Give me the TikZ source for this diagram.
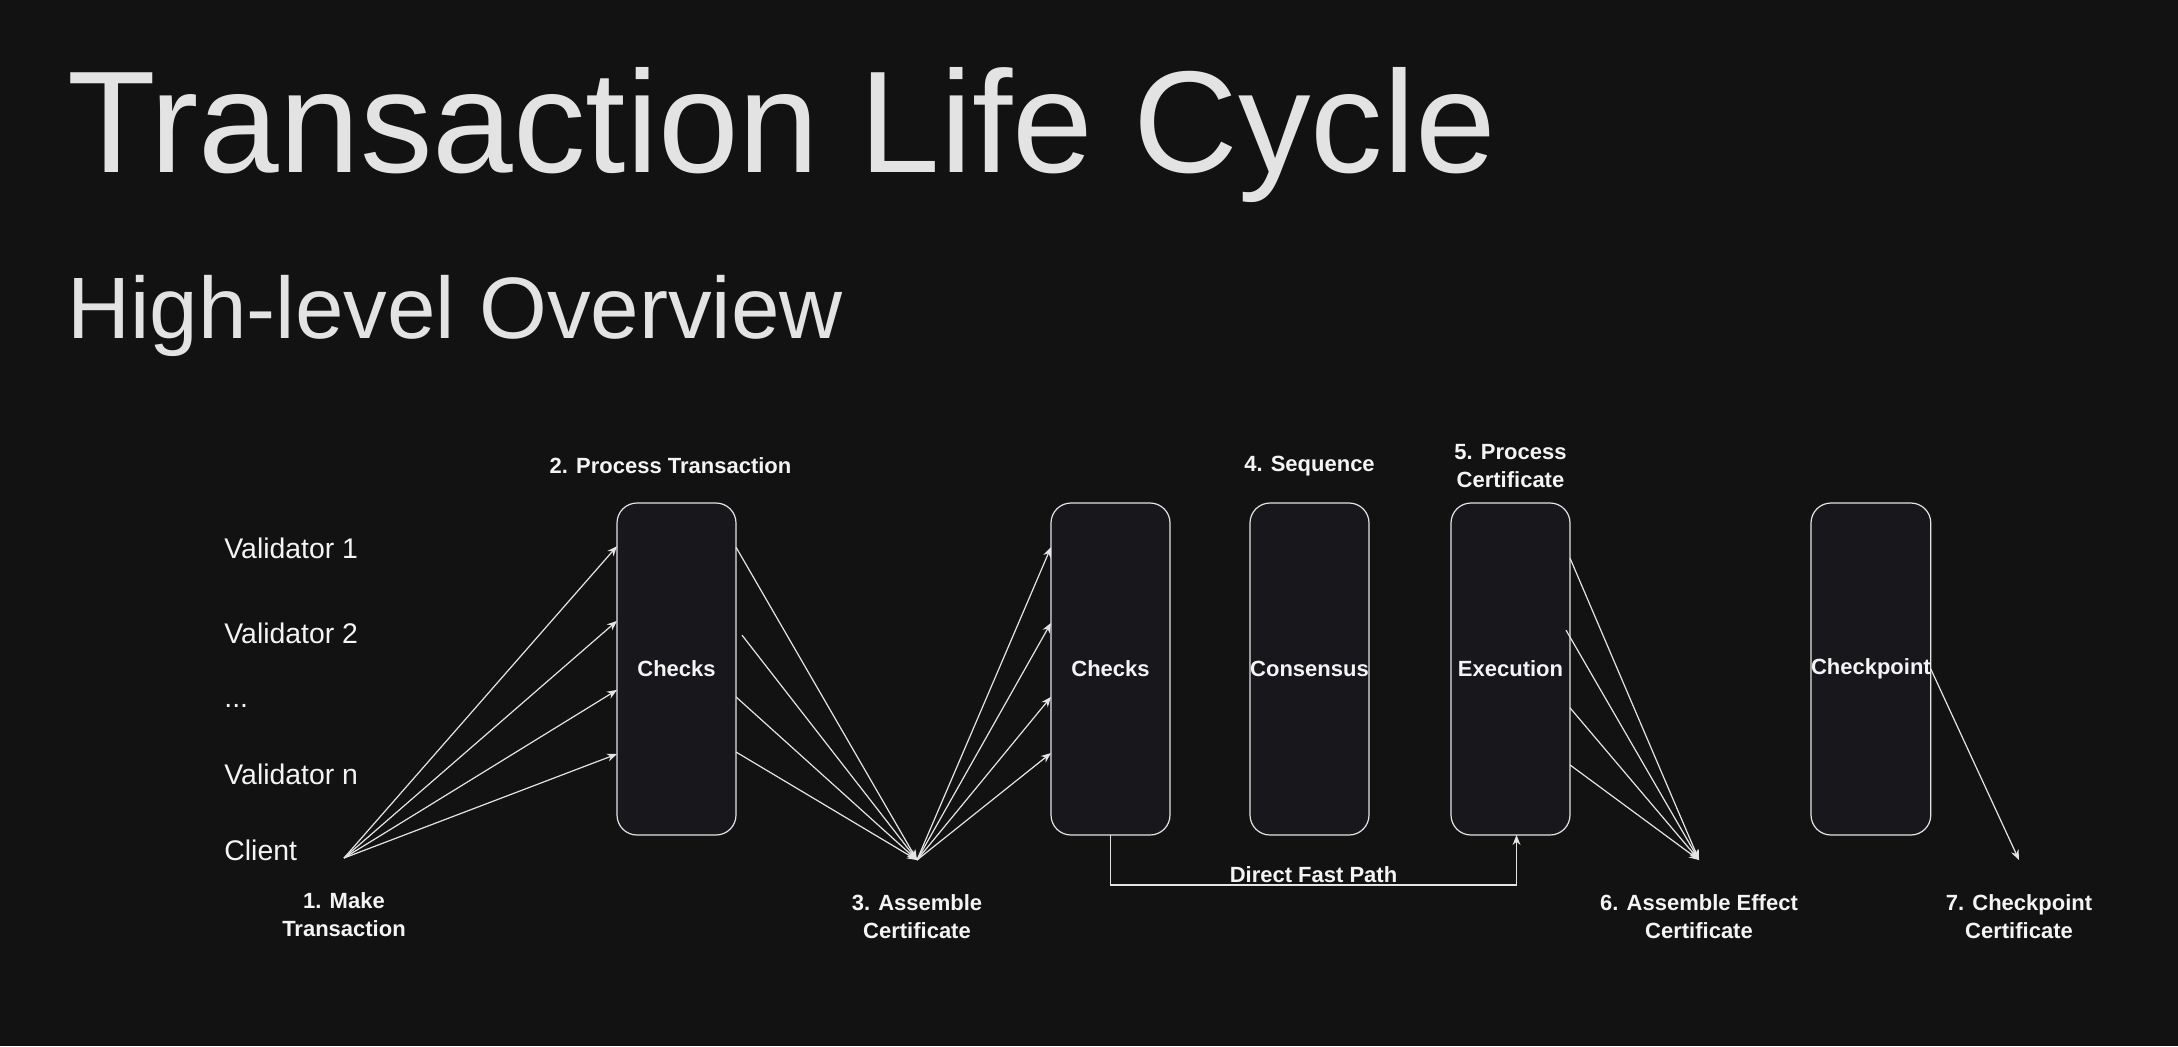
\documentclass[tikz,border=0pt]{standalone}
\usepackage{fontspec}
\setmainfont{Liberation Sans}
\usetikzlibrary{arrows.meta,positioning,calc}
\definecolor{cbg}{HTML}{121212}
\definecolor{cbox}{HTML}{18171C}
\definecolor{cline}{HTML}{E4E4E4}
\definecolor{ctitle}{HTML}{E3E3E3}
\definecolor{ctext}{HTML}{F4F4F4}

\begin{document}
\begin{tikzpicture}[
  x=0.5pt, y=-0.5pt,
  stage/.style={draw=cline, fill=cbox, rounded corners=10pt, line width=0.6pt,
                minimum width=59.5pt, minimum height=166pt, inner sep=0pt,
                outer sep=0pt, font=\fontsize{11}{13}\selectfont\bfseries,
                text=ctext},
  lbl/.style={font=\fontsize{11}{14}\selectfont\bfseries, text=ctext,
              align=center, inner sep=0pt},
  actor/.style={font=\fontsize{14.2}{17}\selectfont, text=ctext,
                anchor=base west, inner sep=0pt},
  arr/.style={draw=cline, line width=0.6pt, -{Stealth[length=5pt,width=4pt]}},
  node distance=0.5cm
]
\fill[cbg] (0,0) rectangle (2178,1046);

% headings
\node[anchor=base west, inner sep=0pt, text=ctitle,
      font=\fontsize{72.5}{80}\selectfont] (title) at (67,172) {Transaction Life Cycle};
\node[anchor=base west, inner sep=0pt, text=ctitle,
      font=\fontsize{43.6}{50}\selectfont] (subtitle) at (67,338) {High-level Overview};

% actors
\node[actor] (v1) at (224,558) {Validator 1};
\node[actor] (v2) at (224,643) {Validator 2};
\node[actor] (vdots) at (224,707) {...};
\node[actor] (vn) at (224,784) {Validator n};
\node[actor] (cl) at (224,860) {Client};

% stages
\node[stage] (chk1) at (676.5,669) {Checks};
\node[stage, right=157.5pt of chk1] (chk2) {Checks};
\node[stage, right=40pt of chk2] (cons) {Consensus};
\node[stage, right=41pt of cons] (exe) {Execution};
\node[stage, right=120.5pt of exe] (chkp) {Checkpoint};

\coordinate (client) at (344,858);
\coordinate (cert) at (917,860);
\coordinate (effect) at (1699,860);
\coordinate (ckcert) at (2019,860);

% step labels
\node[lbl] at ([xshift=-3pt,yshift=18.5pt]chk1.north) {2. Process Transaction};
\node[lbl] at ([yshift=18.5pt]cons.north) {4. Sequence};
\node[lbl] at ([yshift=18.5pt]exe.north) {5. Process\\Certificate};
\node[lbl] at ([yshift=-28.5pt]client) {1. Make\\Transaction};
\node[lbl] at ([yshift=-28.5pt]cert) {3. Assemble\\Certificate};
\node[lbl] at ([yshift=-28.5pt]effect) {6. Assemble Effect\\Certificate};
\node[lbl] at ([yshift=-28.5pt]ckcert) {7. Checkpoint\\Certificate};

% client -> validators
\draw[arr] (client) -- ($(chk1.north west)!.13!(chk1.south west)$);
\draw[arr] (client) -- ($(chk1.north west)!.355!(chk1.south west)$);
\draw[arr] (client) -- ($(chk1.north west)!.563!(chk1.south west)$);
\draw[arr] (client) -- ($(chk1.north west)!.756!(chk1.south west)$);

% validators -> certificate
\draw[arr] ($(chk1.north east)!.133!(chk1.south east)$) -- (cert);
\draw[arr] ($(chk1.north east)!.398!(chk1.south east)+(6,0)$) -- (cert);
\draw[arr] ($(chk1.north east)!.584!(chk1.south east)$) -- (cert);
\draw[arr] ($(chk1.north east)!.75!(chk1.south east)$) -- (cert);

% certificate -> validators
\draw[arr] (cert) -- ($(chk2.north west)!.133!(chk2.south west)$);
\draw[arr] (cert) -- ($(chk2.north west)!.361!(chk2.south west)$);
\draw[arr] (cert) -- ($(chk2.north west)!.584!(chk2.south west)$);
\draw[arr] (cert) -- ($(chk2.north west)!.753!(chk2.south west)$);

% fast path
\draw[arr] (chk2.south) -- ++(0,50) -|
  node[pos=0.25, above, lbl, inner sep=1pt] {Direct Fast Path} ([xshift=3pt]exe.south);

% execution -> effect certificate
\draw[arr] ($(exe.north east)!.166!(exe.south east)$) -- (effect);
\draw[arr] ($(exe.north east)!.383!(exe.south east)+(-4,0)$) -- (effect);
\draw[arr] ($(exe.north east)!.617!(exe.south east)$) -- (effect);
\draw[arr] ($(exe.north east)!.789!(exe.south east)$) -- (effect);

\draw[arr] (chkp.east) -- (ckcert);
\end{tikzpicture}
\end{document}
